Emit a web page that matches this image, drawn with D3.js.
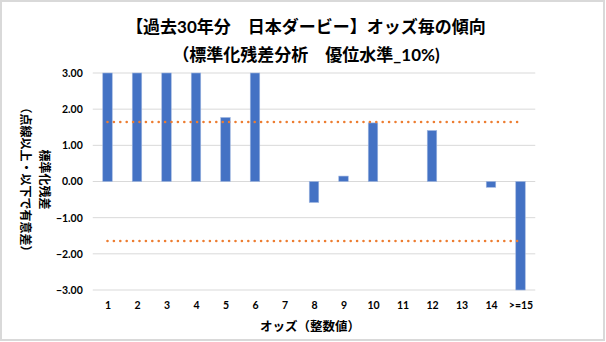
<!DOCTYPE html>
<html><head><meta charset="utf-8">
<script src="https://cdn.jsdelivr.net/npm/d3@7"></script>
<style>
html,body{margin:0;padding:0;background:#fff;}
text{font-family:"Lato","Noto Sans CJK JP",sans-serif;font-weight:bold;fill:#000;}
</style></head><body>
<svg id="c" width="606" height="342"></svg>
<script>
const categories = ["1","2","3","4","5","6","7","8","9","10","11","12","13","14",">=15"];
const residuals = [3.00,3.00,3.00,3.00,1.77,3.00,0,-0.58,0.15,1.62,0,1.41,0,-0.16,-3.00];
const upperLine = 1.645;
const lowerLine = -1.645;
const yTicks = [-3,-2,-1,0,1,2,3];
const titleLines = ["【過去30年分　日本ダービー】オッズ毎の傾向","（標準化残差分析　優位水準_10%)"];
const yTitleLines = ["標準化残差","（点線以上・以下で有意差）"];
const xTitle = "オッズ（整数値）";

const svg = d3.select("#c");
svg.append("rect").attr("x",1).attr("y",1).attr("width",603).attr("height",339)
  .attr("fill","#fff").attr("stroke","#d9d9d9").attr("stroke-width",2);

const m = {l:92.75, r:535.25, t:73, b:290};
const x = d3.scaleBand().domain(categories).range([m.l,m.r]).paddingInner(0.68).paddingOuter(0.34);
const xc = d3.scalePoint().domain(categories).range([m.l,m.r]).padding(0.5);
const y = d3.scaleLinear().domain([-3,3]).range([m.b,m.t]);

// gridlines
svg.append("g").selectAll("line").data(yTicks).join("line")
  .attr("x1",m.l).attr("x2",m.r).attr("y1",d=>y(d)).attr("y2",d=>y(d))
  .attr("stroke","#d9d9d9").attr("stroke-width",1);

// y axis labels
const yAxis = d3.axisLeft(y).tickValues(yTicks).tickFormat(d3.format(".2f")).tickSize(0).tickPadding(10);
const gy = svg.append("g").attr("transform",`translate(${m.l},0)`).call(yAxis);
gy.select(".domain").remove();
gy.selectAll("text").style("font-size","10.5px").attr("fill","#000");

// bars
const bw = 9.5;
svg.append("g").selectAll("rect").data(categories.map((c,i)=>({c,v:residuals[i]}))).join("rect")
  .attr("x",d=>xc(d.c)-bw/2).attr("width",bw)
  .attr("y",d=>y(Math.max(0,d.v))).attr("height",d=>Math.abs(y(d.v)-y(0)))
  .attr("fill","#4472C4").attr("stroke","#9fb6e0").attr("stroke-width",0.6);

// dotted lines
[upperLine,lowerLine].forEach(v=>{
  const line = d3.line().x(d=>xc(d)).y(()=>y(v));
  svg.append("path").attr("d",line(categories)).attr("fill","none")
    .attr("stroke","#ED7D31").attr("stroke-width",2.6).attr("stroke-linecap","round")
    .attr("stroke-dasharray","0 6.4");
});

// x axis labels
const xAxis = d3.axisBottom(xc).tickSize(0).tickPadding(0);
const gx = svg.append("g").attr("transform",`translate(0,${m.b+15})`).call(xAxis);
gx.select(".domain").remove();
gx.selectAll("text").style("font-size","10.5px").attr("dy","0.35em").attr("y",0).attr("fill","#000");

// titles
svg.append("g").selectAll("text").data(titleLines).join("text")
  .attr("x",306).attr("y",(d,i)=>27+i*28).attr("dy","0.35em")
  .attr("text-anchor","middle").style("font-size","17px").text(d=>d);

svg.append("text").attr("x",310).attr("y",327).attr("dy","0.35em")
  .attr("text-anchor","middle").style("font-size","12.5px").text(xTitle);

yTitleLines.forEach((t,i)=>{
  svg.append("text").attr("transform",`translate(${44-i*19},${y(0)-2}) rotate(90)`)
    .attr("text-anchor","middle").attr("dy","0.35em").style("font-size","12px").text(t);
});
</script></body></html>
